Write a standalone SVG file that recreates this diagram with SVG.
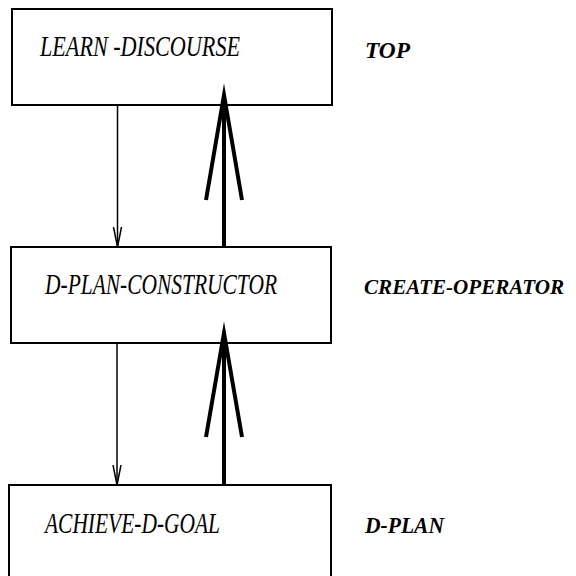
<svg xmlns="http://www.w3.org/2000/svg" width="576" height="576" viewBox="0 0 576 576">
  <style>
    .box { fill: #ffffff; stroke: #000000; stroke-width: 2; }
    .name { font-family: "Liberation Serif", "Times New Roman", serif; font-style: italic; font-size: 30px; fill: #000000; }
    .level { font-family: "Liberation Serif", "Times New Roman", serif; font-style: italic; font-weight: bold; font-size: 23px; fill: #000000; }
    .level-wide { font-size: 21px; }
    .thin { fill: none; stroke: #000000; stroke-width: 1.5; }
    .thick { fill: none; stroke: #000000; stroke-width: 4; stroke-linejoin: miter; stroke-miterlimit: 20; }
  </style>
  <defs>
    <marker id="openHead" markerWidth="12" markerHeight="24" refX="6" refY="20" orient="0" markerUnits="userSpaceOnUse">
      <path d="M2,0 L6,20 L10,0" fill="none" stroke="#000000" stroke-width="1.5"/>
    </marker>
  </defs>

  <g id="learn-discourse">
    <rect class="box" x="12" y="9" width="320" height="96"/>
    <text class="name" x="40" y="56" textLength="200" lengthAdjust="spacingAndGlyphs">LEARN -DISCOURSE</text>
  </g>
  <g id="d-plan-constructor">
    <rect class="box" x="11" y="247" width="320" height="96"/>
    <text class="name" x="45" y="294" textLength="232" lengthAdjust="spacingAndGlyphs">D-PLAN-CONSTRUCTOR</text>
  </g>
  <g id="achieve-d-goal">
    <rect class="box" x="9" y="485" width="322" height="100"/>
    <text class="name" x="45" y="533" textLength="175" lengthAdjust="spacingAndGlyphs">ACHIEVE-D-GOAL</text>
  </g>

  <g id="level-labels">
    <text class="level" x="365" y="58" textLength="45" lengthAdjust="spacingAndGlyphs">TOP</text>
    <text class="level level-wide" x="364" y="294" textLength="200" lengthAdjust="spacingAndGlyphs">CREATE-OPERATOR</text>
    <text class="level" x="365" y="533" textLength="79" lengthAdjust="spacingAndGlyphs">D-PLAN</text>
  </g>

  <g id="connectors">
    <!-- downward calls -->
    <line class="thin" x1="117.5" y1="105" x2="117.5" y2="247" marker-end="url(#openHead)"/>
    <line class="thin" x1="117" y1="343" x2="117" y2="485" marker-end="url(#openHead)"/>
    <!-- upward returns -->
    <line class="thick" x1="224" y1="247" x2="224" y2="100"/>
    <path class="thick" d="M206,200 L224,95 L242,200"/>
    <line class="thick" x1="224" y1="485" x2="224" y2="338"/>
    <path class="thick" d="M206,437 L224,333 L242,437"/>
  </g>
</svg>
